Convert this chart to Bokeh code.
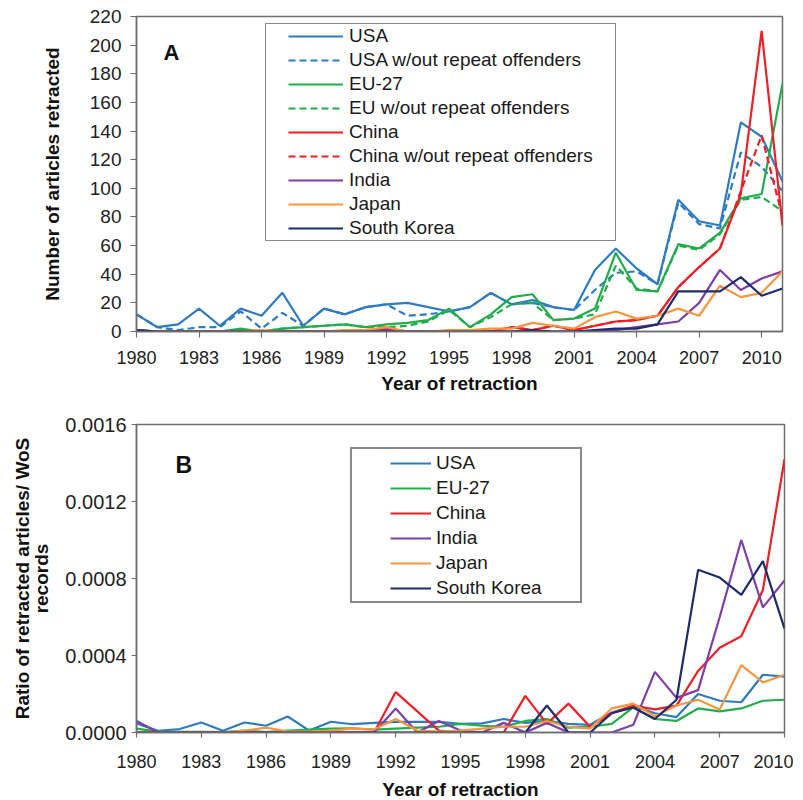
from bokeh.plotting import figure
from bokeh.models import Legend, LegendItem, FixedTicker, Label, Range1d, PrintfTickFormatter
from bokeh.layouts import column
from bokeh.embed import file_html
from bokeh.resources import INLINE

# ---------------- Panel A data: number of retracted articles ----------------
years_a = list(range(1980, 2012))
usa_a = [12, 3, 5, 16, 4, 16, 11, 27, 4, 16, 12, 17, 19, 20, 17, 14,
         17, 27, 19, 22, 17, 15, 43, 58, 44, 33, 92, 77, 74, 146, 136, 105]
usa_nr_a = [12, 3, 1, 3, 3, 14, 2, 13, 4, 16, 12, 17, 19, 11, 12, 14,
            17, 27, 19, 20, 17, 15, 29, 41, 42, 33, 90, 75, 72, 125, 115, 98]
eu_a = [1, 0, 0, 0, 0, 2, 0, 2, 3, 4, 5, 3, 5, 6, 8, 16,
        3, 12, 24, 26, 8, 9, 16, 55, 29, 28, 61, 58, 69, 93, 96, 173]
eu_nr_a = [1, 0, 0, 0, 0, 1, 0, 2, 3, 4, 5, 3, 3, 4, 7, 15,
           3, 10, 19, 20, 8, 9, 12, 46, 30, 28, 60, 57, 68, 92, 94, 84]
china_a = [0, 0, 0, 0, 0, 0, 0, 0, 0, 0, 0, 0, 2, 0, 0, 0,
           0, 0, 3, 1, 4, 1, 4, 7, 8, 11, 31, 45, 58, 96, 210, 74]
china_nr_a = [0, 0, 0, 0, 0, 0, 0, 0, 0, 0, 0, 0, 2, 0, 0, 0,
              0, 0, 3, 1, 4, 1, 4, 7, 8, 11, 31, 45, 58, 98, 137, 80]
india_a = [1, 0, 0, 0, 0, 0, 0, 0, 0, 0, 0, 0, 1, 0, 0, 0,
           0, 0, 0, 0, 0, 0, 0, 1, 3, 5, 7, 20, 43, 29, 37, 42]
japan_a = [0, 0, 0, 0, 0, 0, 1, 0, 0, 0, 1, 1, 3, 0, 0, 1,
           1, 2, 2, 6, 4, 2, 10, 14, 9, 11, 16, 11, 32, 24, 27, 42]
korea_a = [1, 0, 0, 0, 0, 0, 0, 0, 0, 0, 0, 0, 0, 0, 0, 0,
           0, 0, 0, 1, 0, 0, 1, 2, 2, 5, 28, 28, 28, 38, 25, 30]

# ---------------- Panel B data: ratio retracted / WoS records (x 1e-4) ----------------
years_b = list(range(1980, 2011))
usa_b = [0.47, 0.09, 0.18, 0.52, 0.09, 0.52, 0.35, 0.83, 0.10, 0.56, 0.43, 0.50, 0.55, 0.55, 0.55, 0.45,
         0.47, 0.70, 0.50, 0.60, 0.45, 0.40, 1.04, 1.39, 1.00, 0.80, 2.00, 1.65, 1.57, 3.00, 2.90]
eu_b = [0.20, 0.05, 0.03, 0.03, 0.02, 0.10, 0.02, 0.10, 0.15, 0.20, 0.22, 0.15, 0.20, 0.25, 0.30, 0.45,
        0.35, 0.30, 0.60, 0.70, 0.25, 0.30, 0.45, 1.30, 0.70, 0.60, 1.25, 1.10, 1.25, 1.65, 1.70]
china_b = [0, 0, 0, 0, 0, 0, 0, 0, 0, 0, 0, 0, 2.10, 1.10, 0.10, 0.00,
           0.00, 0.00, 1.90, 0.45, 1.50, 0.30, 1.00, 1.40, 1.20, 1.40, 3.20, 4.40, 5.00, 7.40, 14.20]
india_b = [0.60, 0, 0, 0, 0, 0, 0, 0, 0, 0, 0, 0, 1.25, 0.00, 0.60, 0.10,
           0.00, 0.50, 0.00, 0.50, 0.00, 0.00, 0.00, 0.40, 3.15, 1.80, 2.20, 6.00, 10.00, 6.50, 7.90]
japan_b = [0, 0, 0, 0, 0, 0.10, 0.25, 0.05, 0.05, 0.10, 0.20, 0.15, 0.70, 0.10, 0.05, 0.10,
           0.20, 0.30, 0.30, 0.60, 0.30, 0.20, 1.25, 1.50, 0.85, 1.40, 1.70, 1.20, 3.50, 2.60, 3.00]
korea_b = [0, 0, 0, 0, 0, 0, 0, 0, 0, 0, 0, 0, 0, 0, 0, 0,
           0, 0, 0.00, 1.40, 0.00, 0.00, 1.00, 1.30, 0.70, 1.70, 8.45, 8.05, 7.15, 8.90, 5.40]
scale_b = 1e-4

ticks_x = list(range(1980, 2011, 3))
ticks_ya = list(range(0, 221, 20))
ticks_yb = [0, 0.0004, 0.0008, 0.0012, 0.0016]

C_USA = "#2e7bc4"
C_EU = "#22ad4c"
C_CHINA = "#ee1f25"
C_INDIA = "#7d3fa9"
C_JAPAN = "#f7963f"
C_KOREA = "#1f2c6b"

FONT = "Liberation Sans"
AX = "#6e6e6e"


def style(p, tick_len, lab_stand, title_stand_x, title_stand_y, ylab_size):
    p.xgrid.visible = False
    p.ygrid.visible = False
    p.outline_line_color = AX
    p.outline_line_width = 1.5
    for ax in (p.xaxis[0], p.yaxis[0]):
        ax.axis_line_color = AX
        ax.axis_line_width = 1.5
        ax.major_tick_line_color = AX
        ax.major_tick_line_width = 1.2
        ax.major_tick_out = tick_len
        ax.major_tick_in = 0
        ax.minor_tick_line_color = None
        ax.major_label_text_font = FONT
        ax.major_label_text_font_size = "18px"
        ax.major_label_text_color = "#222222"
        ax.axis_label_text_font = FONT
        ax.axis_label_text_font_size = "19px"
        ax.axis_label_text_font_style = "bold"
        ax.axis_label_text_color = "#111111"
    p.yaxis[0].major_label_text_font_size = ylab_size
    p.xaxis[0].major_label_standoff = lab_stand[0]
    p.yaxis[0].major_label_standoff = lab_stand[1]
    p.xaxis[0].axis_label_standoff = title_stand_x
    p.yaxis[0].axis_label_standoff = title_stand_y


def set_padding(leg, d, fallback):
    try:
        leg.padding = d
    except Exception:
        leg.padding = fallback


# ---------------- Figure A ----------------
pa = figure(frame_width=646, frame_height=315, output_backend="svg", toolbar_location=None,
            x_range=Range1d(1980, 2011), y_range=Range1d(0, 220),
            min_border_left=136, min_border_right=12, min_border_top=16, min_border_bottom=69)
style(pa, 6, (13, 9), 6, 24, "19px")
pa.xaxis[0].ticker = FixedTicker(ticks=ticks_x)
pa.yaxis[0].ticker = FixedTicker(ticks=ticks_ya)
pa.xaxis[0].axis_label = "Year of retraction"
pa.yaxis[0].axis_label = "Number of articles retracted"

DASH = "7 4"
series_a = [
    ("USA", usa_a, C_USA, "solid"),
    ("USA w/out repeat offenders", usa_nr_a, C_USA, DASH),
    ("EU-27", eu_a, C_EU, "solid"),
    ("EU w/out repeat offenders", eu_nr_a, C_EU, DASH),
    ("China", china_a, C_CHINA, "solid"),
    ("China w/out repeat offenders", china_nr_a, C_CHINA, DASH),
    ("India", india_a, C_INDIA, "solid"),
    ("Japan", japan_a, C_JAPAN, "solid"),
    ("South Korea", korea_a, C_KOREA, "solid"),
]
items_a = []
for name, vals, col, dash in series_a:
    r = pa.line(years_a, vals, line_color=col, line_width=2.2, line_dash=dash)
    items_a.append(LegendItem(label=name, renderers=[r]))

leg_a = Legend(items=items_a, location=(129, 90))
set_padding(leg_a, dict(top=0, bottom=0, left=22, right=22), 10)
leg_a.spacing = 0
leg_a.margin = 0
leg_a.label_height = 24
leg_a.glyph_height = 20
leg_a.glyph_width = 55
leg_a.label_standoff = 6
leg_a.label_text_font = FONT
leg_a.label_text_font_size = "19px"
leg_a.label_text_color = "#1a1a1a"
leg_a.border_line_color = "#111111"
leg_a.border_line_width = 1.5
leg_a.background_fill_color = "white"
leg_a.background_fill_alpha = 1.0
pa.add_layout(leg_a, "center")

pa.add_layout(Label(x=1981.3, y=195, text="A", text_font=FONT, text_font_size="22px",
                    text_font_style="bold", text_baseline="alphabetic", text_color="#111111"))

# ---------------- Figure B ----------------
pb = figure(frame_width=648, frame_height=308, output_backend="svg", toolbar_location=None,
            x_range=Range1d(1980, 2010), y_range=Range1d(0, 0.0016),
            min_border_left=133, min_border_right=12, min_border_top=24, min_border_bottom=68)
style(pb, 5, (17, 5), 8, 10, "20px")
pb.xaxis[0].ticker = FixedTicker(ticks=ticks_x)
pb.yaxis[0].ticker = FixedTicker(ticks=ticks_yb)
pb.yaxis[0].formatter = PrintfTickFormatter(format="%.4f")
pb.xaxis[0].axis_label = "Year of retraction"
pb.yaxis[0].axis_label = "Ratio of retracted articles/ WoS\nrecords"
pb.yaxis[0].axis_label_text_line_height = 0.91

series_b = [
    ("USA", usa_b, C_USA),
    ("EU-27", eu_b, C_EU),
    ("China", china_b, C_CHINA),
    ("India", india_b, C_INDIA),
    ("Japan", japan_b, C_JAPAN),
    ("South Korea", korea_b, C_KOREA),
]
items_b = []
for name, vals, col in series_b:
    r = pb.line(years_b, [v * scale_b for v in vals], line_color=col, line_width=2.2)
    items_b.append(LegendItem(label=name, renderers=[r]))

leg_b = Legend(items=items_b, location=(214, 129))
set_padding(leg_b, dict(top=1, bottom=1, left=38, right=38), 10)
leg_b.spacing = 0
leg_b.margin = 0
leg_b.label_height = 25
leg_b.glyph_height = 20
leg_b.glyph_width = 41
leg_b.label_standoff = 5
leg_b.label_text_font = FONT
leg_b.label_text_font_size = "19px"
leg_b.label_text_color = "#1a1a1a"
leg_b.border_line_color = "#111111"
leg_b.border_line_width = 2
leg_b.background_fill_color = "white"
leg_b.background_fill_alpha = 1.0
pb.add_layout(leg_b, "center")

pb.add_layout(Label(x=1981.8, y=0.00139, text="B", text_font=FONT, text_font_size="23px",
                    text_font_style="bold", text_baseline="alphabetic", text_color="#111111"))

layout = column(pa, pb, spacing=0)
open("out.html", "w").write(file_html(layout, INLINE))
